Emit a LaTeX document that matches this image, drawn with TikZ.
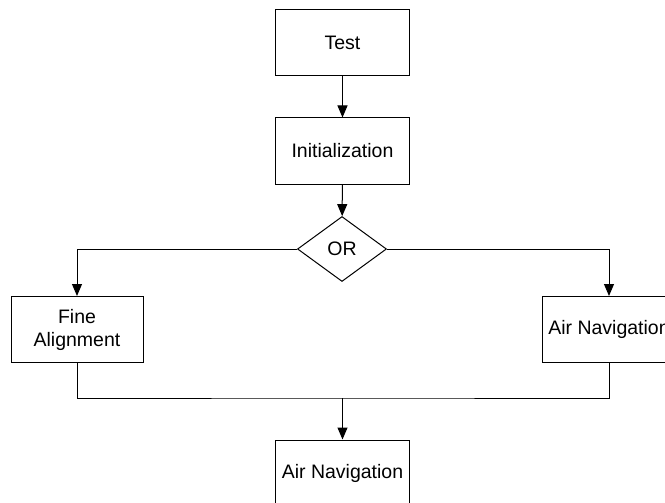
\documentclass[tikz,border=0pt]{standalone}
\usepackage{fontspec}
\setmainfont{Liberation Sans}
\usetikzlibrary{shapes.geometric,arrows.meta}
\begin{document}
\begin{tikzpicture}[x=1pt,y=-1pt,
      every node/.style={font=\fontsize{19.5}{23}\selectfont, align=center},
      box/.style={draw, line width=1pt, minimum width=134pt, minimum height=66pt, inner sep=2pt},
      choice/.style={draw, diamond, line width=1pt, minimum width=89pt, minimum height=65pt, inner sep=0pt},
      flow/.style={line width=1pt, -{Triangle[width=10pt,length=12pt]}},
      link/.style={line width=1pt}]
    \useasboundingbox (0,0) rectangle (665,503);
    \clip (0,0) rectangle (665,503);
      \node[box] (test) at (342.5,43) {Test};
      \node[box] (init) at (342.5,151) {Initialization};
      \node[choice] (or) at (342,249) {OR};
      \node[box, minimum width=132pt] (fine) at (77,329.5) {Fine\\Alignment};
      \node[box] (airnav) at (609,329.5) {Air Navigation};
      \node[box] (result) at (342.5,473) {Air Navigation};
      \coordinate (join) at (342.5,398);
      \draw[flow] (test) -- (init);
      \draw[flow] (init) -- (or);
      \draw[flow] (or.west) -| (fine.north);
      \draw[flow] (or.east) -| (airnav.north);
      \draw[link] (fine.south) |- (join) -| (airnav.south);
      \draw[flow] (join) -- (result);
    \end{tikzpicture}
\end{document}
